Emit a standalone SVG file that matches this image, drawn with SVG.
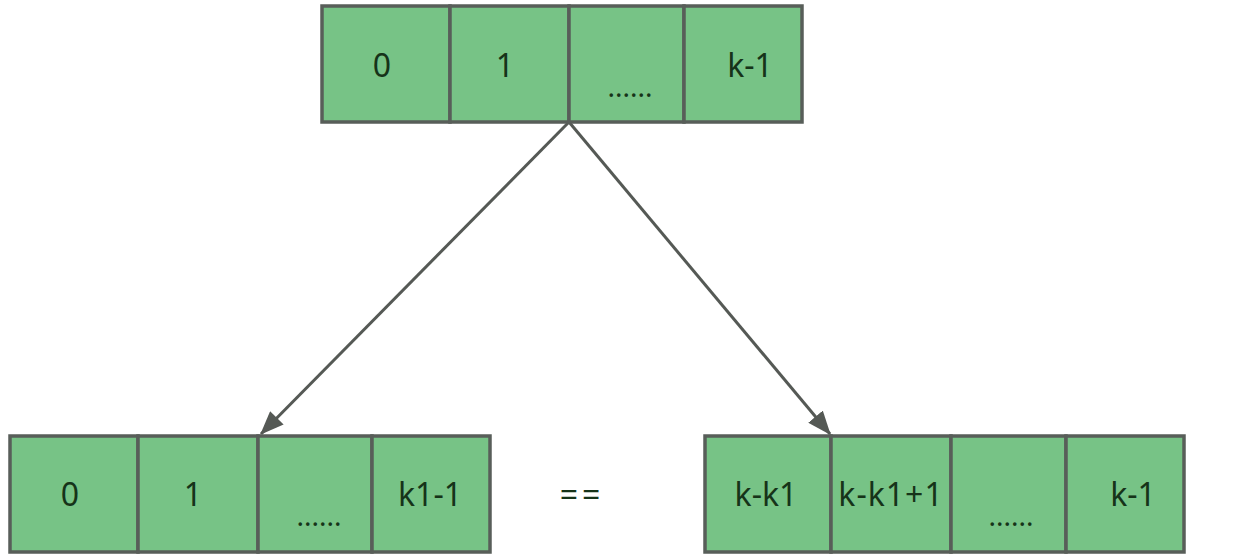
<svg xmlns="http://www.w3.org/2000/svg" width="1235" height="558" viewBox="0 0 1235 558">
<style>
.cell{fill:#77c386;stroke:#585e59;stroke-width:3.5}
.t{font-family:"Noto Sans","Open Sans",sans-serif;font-size:32px;fill:#163319;text-anchor:middle}
.d{font-family:"Noto Sans","Open Sans",sans-serif;font-size:28px;fill:#163319;text-anchor:middle}
.c{stroke:#555955;stroke-width:3;fill:none}
</style>
<defs>
<marker id="arr" viewBox="0 0 20 16" refX="19" refY="8" markerWidth="24" markerHeight="19" markerUnits="userSpaceOnUse" orient="auto">
<path d="M0,0 L20,8 L0,16 z" fill="#555955"/>
</marker>
</defs>
<rect width="1235" height="558" fill="#ffffff"/>
<g id="connectors">
<line class="c" x1="569" y1="122" x2="261" y2="434" marker-end="url(#arr)"/>
<line class="c" x1="569" y1="122" x2="830" y2="434" marker-end="url(#arr)"/>
</g>
<g id="top">
<rect class="cell" x="322" y="6" width="128" height="116"/>
<rect class="cell" x="450" y="6" width="119" height="116"/>
<rect class="cell" x="569" y="6" width="115" height="116"/>
<rect class="cell" x="684" y="6" width="118" height="116"/>
<text class="t" x="382" y="77">0</text>
<text class="t" x="505" y="77">1</text>
<text class="d" x="630" y="97">......</text>
<text class="t" x="750" y="77">k-1</text>
</g>
<g id="left">
<rect class="cell" x="10" y="436" width="128" height="116"/>
<rect class="cell" x="138" y="436" width="120" height="116"/>
<rect class="cell" x="258" y="436" width="114" height="116"/>
<rect class="cell" x="372" y="436" width="118" height="116"/>
<text class="t" x="70" y="506">0</text>
<text class="t" x="193" y="506">1</text>
<text class="d" x="319" y="526">......</text>
<text class="t" x="430" y="506">k1-1</text>
</g>
<g id="eq">
<text class="t" x="582" y="506" letter-spacing="4">==</text>
</g>
<g id="right">
<rect class="cell" x="705" y="436" width="126" height="116"/>
<rect class="cell" x="831" y="436" width="120" height="116"/>
<rect class="cell" x="951" y="436" width="115" height="116"/>
<rect class="cell" x="1066" y="436" width="118" height="116"/>
<text class="t" x="766" y="506">k-k1</text>
<text class="t" x="891" y="506" letter-spacing="1">k-k1+1</text>
<text class="d" x="1011" y="526">......</text>
<text class="t" x="1133" y="506">k-1</text>
</g>
</svg>
